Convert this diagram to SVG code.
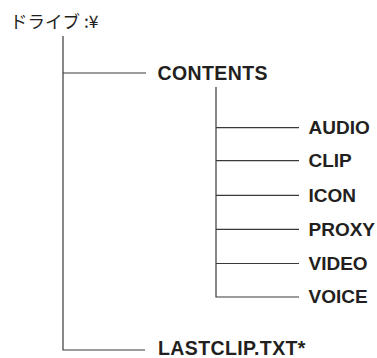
<svg xmlns="http://www.w3.org/2000/svg" width="377" height="358" viewBox="0 0 377 358">
<style>
.l{stroke:#3a3a3a;stroke-width:1.2;fill:none}
.t{font-family:"Liberation Sans",Arial,sans-serif;font-weight:bold;font-size:19px;fill:#231f20}
.w{font-size:19.5px;letter-spacing:0.4px}
.r{font-family:"Noto Sans CJK JP","Liberation Sans",sans-serif;font-size:17.5px;fill:#231f20}
</style>
<rect width="377" height="358" fill="#fff"/>
<g id="connectors">
<path class="l" d="M63 36V350H145M63 73H146"/>
<path class="l" d="M216 87V297H299M216 127.7H299M216 160.7H299M216 195.3H299M216 229.3H299M216 263.5H299"/>
</g>
<g id="root"><text class="r" x="10" y="28">ドライブ :¥</text></g>
<g id="contents"><text class="t w" x="157.5" y="80">CONTENTS</text></g>
<g id="audio"><text class="t" x="308.5" y="133.7">AUDIO</text></g>
<g id="clip"><text class="t" x="308.5" y="166.9">CLIP</text></g>
<g id="icon"><text class="t" x="308.5" y="201.6">ICON</text></g>
<g id="proxy"><text class="t" x="308.5" y="235.6">PROXY</text></g>
<g id="video"><text class="t" x="308.5" y="269.8">VIDEO</text></g>
<g id="voice"><text class="t" x="308.5" y="303.3">VOICE</text></g>
<g id="lastclip"><text class="t w" x="158" y="355">LASTCLIP.TXT*</text></g>
</svg>
